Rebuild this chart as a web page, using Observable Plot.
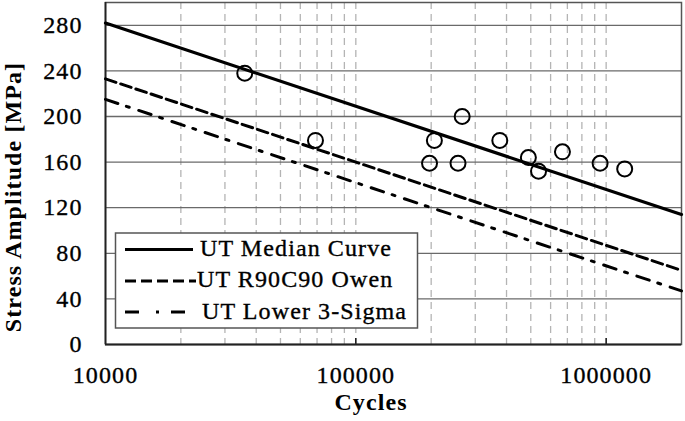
<!DOCTYPE html>
<html><head><meta charset="utf-8">
<script src="https://cdn.jsdelivr.net/npm/d3@7"></script>
<script src="https://cdn.jsdelivr.net/npm/@observablehq/plot@0.6"></script>
<style>
body{margin:0;background:#fff;}
#wrap{position:relative;width:685px;height:421px;font-family:"Liberation Serif","Times New Roman",serif;}
#wrap svg text{letter-spacing:1.1px;}
#wrap svg g[aria-label$="tick label"] text, #overlay text.reg{stroke:#000;stroke-width:0.35px;}
#overlay{position:absolute;left:0;top:0;pointer-events:none;}
</style></head><body><div id="wrap"></div>
<script>
// Test points
const cycles = [36000, 69000, 197000, 206000, 256000, 266000, 376000, 489000, 537000, 669000, 946000, 1186000];
const stress = [238, 179, 159, 179, 159, 200, 179, 164, 152, 169, 159, 154];
// Curves (read at the ends of the plotted range)
const curveCycles = [10000, 2000000];
const medianCurve = [282, 114];
const owenCurve = [233, 65];
const sigmaCurve = [215, 47];
// Ticks
const yTicks = [0, 40, 80, 120, 160, 200, 240, 280];
const xTicks = [10000, 100000, 1000000];
const minorTicks = [20000, 30000, 40000, 50000, 60000, 70000, 80000, 90000, 100000,
  200000, 300000, 400000, 500000, 600000, 700000, 800000, 900000, 1000000];
const seriesNames = ["UT Median Curve", "UT R90C90 Owen", "UT Lower 3-Sigma"];

const pts = cycles.map((c, i) => ({c, s: stress[i]}));
const curve = arr => curveCycles.map((c, i) => ({c, s: arr[i]}));

const chart = Plot.plot({
  width: 685, height: 421,
  marginLeft: 105, marginRight: 4, marginTop: 2, marginBottom: 77,
  style: {fontFamily: "'Liberation Serif','Times New Roman',serif", fontSize: "24px", color: "#000", background: "transparent", overflow: "visible"},
  x: {type: "log", domain: [10000, 2000000]},
  y: {domain: [0, 300]},
  marks: [
    Plot.gridX(minorTicks, {stroke: "#b4b4b4", strokeOpacity: 1, strokeDasharray: "7,5", strokeWidth: 1.3}),
    Plot.gridY(yTicks.filter(v => v > 0), {stroke: "#6a6a6a", strokeOpacity: 1, strokeWidth: 1.3}),
    Plot.axisX(xTicks, {tickSize: 0, tickPadding: 21, tickFormat: d => String(d), label: null}),
    Plot.axisX(xTicks.slice(1), {tickSize: -6, tickFormat: () => "", label: null, stroke: "#000", strokeWidth: 1.3}),
    Plot.axisY(yTicks, {tickSize: 0, tickPadding: 23, label: null}),
    Plot.frame({stroke: "#555", strokeWidth: 1.5}),
    Plot.ruleY([0], {stroke: "#222", strokeWidth: 1.8}),
    Plot.ruleX([10000], {stroke: "#222", strokeWidth: 1.8}),
    Plot.line(curve(medianCurve), {x: "c", y: "s", stroke: "#000", strokeWidth: 3.2}),
    Plot.line(curve(owenCurve), {x: "c", y: "s", stroke: "#000", strokeWidth: 3, strokeDasharray: "11,5"}),
    Plot.line(curve(sigmaCurve), {x: "c", y: "s", stroke: "#000", strokeWidth: 3, strokeDasharray: "13,9,3,10"}),
    Plot.dot(pts, {x: "c", y: "s", r: 7.5, stroke: "#000", strokeWidth: 2, fill: "none"})
  ]
});
const wrap = document.getElementById("wrap");
wrap.appendChild(chart);

// Overlay: axis titles and legend
const ov = d3.select(wrap).append("svg").attr("id", "overlay")
  .attr("width", 685).attr("height", 421)
  .style("font-family", "'Liberation Serif','Times New Roman',serif")
  .style("font-size", "24px");
ov.append("text").attr("transform", "translate(21,197) rotate(-90)")
  .attr("text-anchor", "middle").attr("font-weight", "bold").text("Stress Amplitude [MPa]");
ov.append("text").attr("x", 371).attr("y", 410)
  .attr("text-anchor", "middle").attr("font-weight", "bold").text("Cycles");

const lg = ov.append("g");
lg.append("rect").attr("x", 115.5).attr("y", 233).attr("width", 302).attr("height", 95)
  .attr("fill", "#fff").attr("stroke", "#555").attr("stroke-width", 1.5);
const rows = [
  {y: 249.5, x2: 193, dash: null, tx: 200, ty: 256},
  {y: 281, x2: 196, dash: "11,5", tx: 197, ty: 287},
  {y: 312, x2: 187, dash: "14,17,3,12", tx: 202, ty: 319}
];
rows.forEach((r, i) => {
  const l = lg.append("line").attr("x1", 125).attr("x2", r.x2).attr("y1", r.y).attr("y2", r.y)
    .attr("stroke", "#000").attr("stroke-width", 3);
  if (r.dash) l.attr("stroke-dasharray", r.dash);
  lg.append("text").attr("class", "reg").attr("x", r.tx).attr("y", r.ty).text(seriesNames[i]);
});
</script></body></html>
